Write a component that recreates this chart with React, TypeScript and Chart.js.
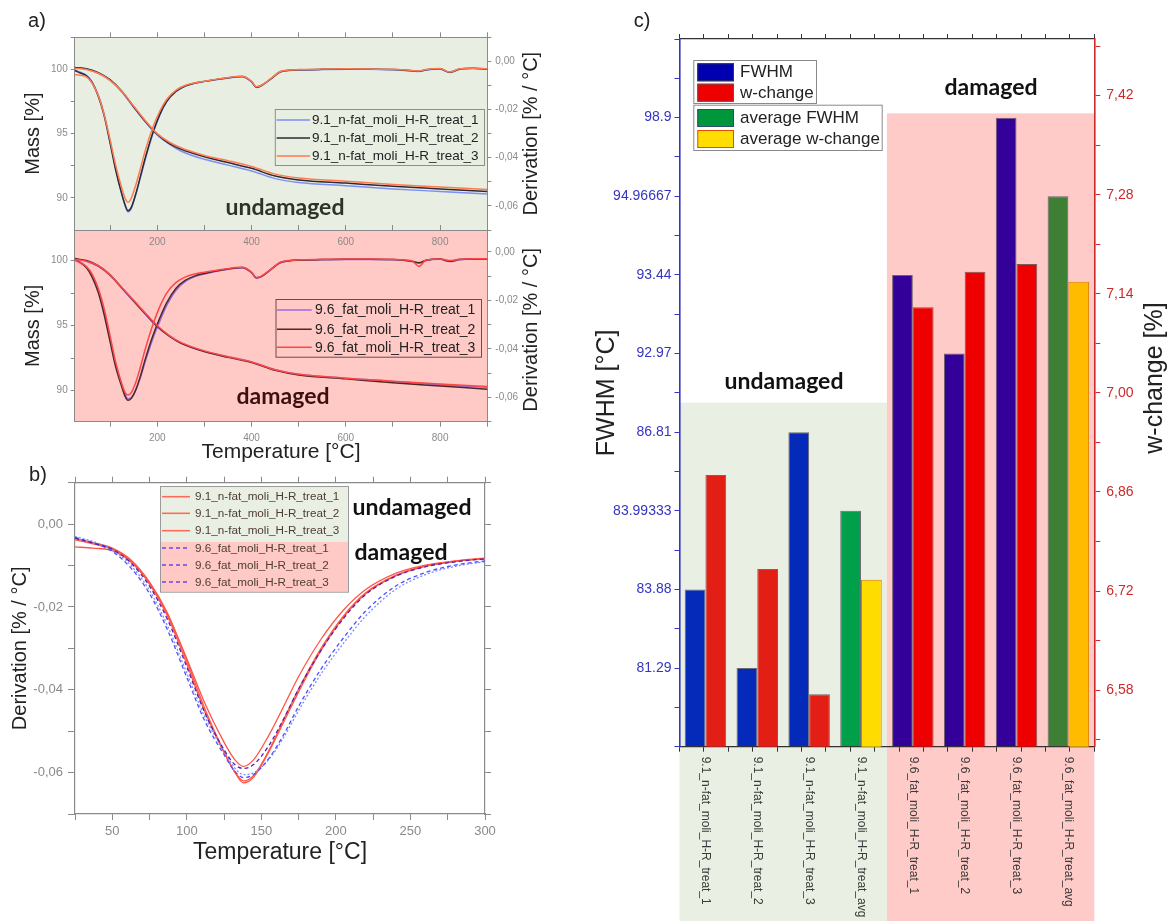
import React, { useEffect, useRef } from 'react';
import { Chart, registerables } from 'chart.js';

Chart.register(...registerables);

const SANS = "'Liberation Sans', Arial, Helvetica, sans-serif";
const BOLD = "Lato, 'Open Sans', sans-serif";

// ====================== DATA ======================
// panel a: mass curves (°C -> %)
const tempMass = [25, 50, 75, 100, 125, 150, 175, 200, 225, 250, 300, 350, 400, 450, 500, 600, 700, 800, 900];
const massUndamaged1 = [100.15, 100.03, 99.72, 99.15, 98.25, 97.05, 95.9, 94.9, 94.2, 93.65, 93.0, 92.55, 92.1, 91.5, 91.2, 90.95, 90.7, 90.5, 90.3];
const massUndamaged2 = [100.15, 100.05, 99.75, 99.2, 98.3, 97.1, 95.95, 94.95, 94.25, 93.8, 93.2, 92.75, 92.3, 91.7, 91.4, 91.15, 90.9, 90.7, 90.5];
const massUndamaged3 = [100.1, 100.0, 99.7, 99.15, 98.3, 97.15, 96.0, 95.0, 94.35, 93.9, 93.3, 92.9, 92.45, 91.85, 91.55, 91.3, 91.05, 90.85, 90.65];
const massDamaged1 = [100.15, 99.95, 99.55, 98.85, 97.85, 96.85, 95.85, 94.9, 94.2, 93.65, 93.0, 92.6, 92.2, 91.6, 91.25, 90.95, 90.7, 90.45, 90.25];
const massDamaged2 = [100.15, 100.0, 99.6, 98.9, 97.9, 96.9, 95.9, 94.95, 94.2, 93.65, 93.0, 92.55, 92.15, 91.55, 91.2, 90.9, 90.6, 90.35, 90.1];
const massDamaged3 = [100.1, 99.95, 99.6, 98.9, 97.9, 96.95, 95.95, 95.0, 94.25, 93.7, 93.05, 92.6, 92.2, 91.6, 91.25, 90.95, 90.72, 90.5, 90.3];

// panel a + b: derivation curves (°C -> % / °C)
const tempDeriv = [25, 37, 50, 62, 75, 87, 100, 112, 125, 132, 138, 145, 155, 165, 175, 190, 205, 220, 240, 260, 280, 300, 340, 380, 400, 410, 420, 440, 460, 480, 500, 550, 600, 650, 700, 740, 755, 770, 800, 820, 840, 870, 900];
const derivUndamaged1 = [-0.0035, -0.0045, -0.0058, -0.0085, -0.014, -0.0215, -0.033, -0.0445, -0.055, -0.0598,
  -0.0625, -0.061, -0.055, -0.0478, -0.0405, -0.0305, -0.0225, -0.0168, -0.0125, -0.0102,
  -0.009, -0.0083, -0.0072, -0.0064, -0.0085, -0.0108, -0.0102, -0.0075, -0.0045, -0.0038,
  -0.0036, -0.0034, -0.0033, -0.0033, -0.0035, -0.004, -0.0042, -0.0036, -0.0032, -0.0046,
  -0.0034, -0.003, -0.0033];
const derivUndamaged2 = [-0.0038, -0.0048, -0.006, -0.0088, -0.0145, -0.0222, -0.0338, -0.0452, -0.0552, -0.0597,
  -0.062, -0.0606, -0.0547, -0.0472, -0.0398, -0.03, -0.0222, -0.0166, -0.0124, -0.0101,
  -0.009, -0.0083, -0.0071, -0.0063, -0.0084, -0.0107, -0.0101, -0.0074, -0.0044, -0.0037,
  -0.0035, -0.0033, -0.0032, -0.0033, -0.0034, -0.0039, -0.0041, -0.0035, -0.0031, -0.0045,
  -0.0033, -0.0029, -0.0032];
const derivUndamaged3 = [-0.0055, -0.0058, -0.0064, -0.009, -0.0142, -0.0218, -0.0325, -0.0432, -0.0527, -0.0568,
  -0.0585, -0.0568, -0.051, -0.044, -0.0368, -0.0278, -0.0208, -0.0158, -0.0119, -0.0099,
  -0.0089, -0.0082, -0.007, -0.0062, -0.0083, -0.0105, -0.01, -0.0073, -0.0043, -0.0036,
  -0.0034, -0.0032, -0.0031, -0.0032, -0.0033, -0.0038, -0.004, -0.0034, -0.003, -0.0044,
  -0.0032, -0.0028, -0.0031];
const derivDamaged1 = [-0.003, -0.0042, -0.0062, -0.0098, -0.016, -0.0245, -0.036, -0.0465, -0.0548, -0.0588,
  -0.0605, -0.06, -0.0568, -0.0515, -0.045, -0.0362, -0.0288, -0.0222, -0.0158, -0.0122,
  -0.0102, -0.0091, -0.0075, -0.0066, -0.0086, -0.0108, -0.0103, -0.0075, -0.0046, -0.0038,
  -0.0035, -0.0033, -0.0032, -0.0032, -0.0033, -0.004, -0.0047, -0.0036, -0.0031, -0.004,
  -0.0033, -0.003, -0.003];
const derivDamaged2 = [-0.0032, -0.0045, -0.0066, -0.0104, -0.0168, -0.0255, -0.037, -0.0475, -0.0557, -0.0596,
  -0.0612, -0.0604, -0.0566, -0.0508, -0.044, -0.035, -0.0275, -0.021, -0.015, -0.0117,
  -0.0099, -0.0089, -0.0074, -0.0065, -0.0085, -0.0107, -0.0102, -0.0074, -0.0045, -0.0037,
  -0.0034, -0.0032, -0.0031, -0.0031, -0.0032, -0.0039, -0.0045, -0.0035, -0.003, -0.0039,
  -0.0032, -0.0029, -0.0029];
const derivDamaged3 = [-0.0034, -0.0046, -0.0061, -0.0092, -0.015, -0.023, -0.0345, -0.0455, -0.0545, -0.058,
  -0.059, -0.058, -0.0535, -0.047, -0.0398, -0.0305, -0.0228, -0.017, -0.0126, -0.0103,
  -0.0091, -0.0084, -0.0072, -0.0064, -0.0084, -0.0106, -0.0101, -0.0074, -0.0044, -0.0036,
  -0.0033, -0.0031, -0.003, -0.003, -0.0031, -0.0037, -0.006, -0.0034, -0.0029, -0.0036,
  -0.0031, -0.0028, -0.0028];

const legendUndamaged = ['9.1_n-fat_moli_H-R_treat_1', '9.1_n-fat_moli_H-R_treat_2', '9.1_n-fat_moli_H-R_treat_3'];
const legendDamaged = ['9.6_fat_moli_H-R_treat_1', '9.6_fat_moli_H-R_treat_2', '9.6_fat_moli_H-R_treat_3'];

const tempTicksA = [100, 200, 300, 400, 500, 600, 700, 800, 900];
const tempLabelsA = [200, 400, 600, 800];
const massTicks = [90, 92.5, 95, 97.5, 100, 102.5];
const massLabels = [90, 95, 100];
const derivTicks = [-0.07, -0.06, -0.05, -0.04, -0.03, -0.02, -0.01, 0, 0.01];
const derivLabels = [-0.06, -0.04, -0.02, 0];
const tempTicksB = [25, 50, 75, 100, 125, 150, 175, 200, 225, 250, 275, 300];
const tempLabelsB = [50, 100, 150, 200, 250, 300];

// panel c: bars
const barCategories = [
  '9.1_n-fat_moli_H-R_treat_1', '9.1_n-fat_moli_H-R_treat_2', '9.1_n-fat_moli_H-R_treat_3', '9.1_n-fat_moli_H-R_treat_avg',
  '9.6_fat_moli_H-R_treat_1', '9.6_fat_moli_H-R_treat_2', '9.6_fat_moli_H-R_treat_3', '9.6_fat_moli_H-R_treat_avg',
];
const fwhmValues = [83.88, 81.29, 86.81, 83.99333, 93.44, 92.97, 98.9, 94.96667];
const wChangeValues = [6.884, 6.751, 6.574, 6.736, 7.121, 7.171, 7.182, 7.157];
const fwhmAxisLabels = [81.29, 83.88, 83.99333, 86.81, 92.97, 93.44, 94.96667, 98.9];
const wChangeAxisLabels = [6.58, 6.72, 6.86, 7.0, 7.14, 7.28, 7.42];
const legendC = ['FWHM', 'w-change', 'average FWHM', 'average w-change'];

// ====================== HELPERS ======================
const zeroPad = (s: any) => { s.paddingLeft = 0; s.paddingRight = 0; s.paddingTop = 0; s.paddingBottom = 0; };
const fitW = (w: number) => (s: any) => { s.width = w; zeroPad(s); };
const fitH = (h: number) => (s: any) => { s.height = h; zeroPad(s); };
const setTicks = (vals: number[]) => (s: any) => {
  s.ticks = vals.filter((v) => v >= s.min - 1e-9 && v <= s.max + 1e-9).map((v) => ({ value: v }));
};
const near = (list: number[], v: number) => list.some((l) => Math.abs(l - v) < 1e-7);
const comma = (v: number) => (Math.abs(v) < 1e-9 ? 0 : v).toFixed(2).replace('.', ',');
const pts = (xs: number[], ys: number[]) => xs.map((x, i) => ({ x, y: ys[i] }));

function txt(ctx: CanvasRenderingContext2D, s: string, x: number, y: number, font: string, color: string,
  align: CanvasTextAlign = 'center', rot = 0) {
  ctx.save();
  ctx.translate(x, y);
  if (rot) ctx.rotate(rot);
  ctx.font = font;
  ctx.fillStyle = color;
  ctx.textAlign = align;
  ctx.textBaseline = 'middle';
  ctx.fillText(s, 0, 0);
  ctx.restore();
}

function lineLegend(ctx: CanvasRenderingContext2D, box: number[], rows: number[], labels: string[], colors: string[],
  dashes: number[][], lineX: number[], textX: number, font: string, textColor: string, border: string, fills?: any[]) {
  ctx.save();
  if (fills) {
    fills.forEach((f: any) => { ctx.fillStyle = f.color; ctx.fillRect(box[0], f.y0, box[2] - box[0], f.y1 - f.y0); });
  }
  ctx.strokeStyle = border;
  ctx.lineWidth = 1;
  ctx.strokeRect(box[0] + 0.5, box[1] + 0.5, box[2] - box[0], box[3] - box[1]);
  rows.forEach((y, i) => {
    ctx.beginPath();
    ctx.setLineDash(dashes[i] || []);
    ctx.strokeStyle = colors[i];
    ctx.lineWidth = 1.6;
    ctx.moveTo(lineX[0], y);
    ctx.lineTo(lineX[1], y);
    ctx.stroke();
    ctx.setLineDash([]);
    txt(ctx, labels[i], textX, y + 0.5, font, textColor, 'left');
  });
  ctx.restore();
}

const overlay = (id: string, after: (chart: any, ctx: CanvasRenderingContext2D) => void,
  before?: (chart: any, ctx: CanvasRenderingContext2D) => void) => ({
  id,
  beforeDraw: (chart: any) => { if (before) { chart.ctx.save(); before(chart, chart.ctx); chart.ctx.restore(); } },
  afterDraw: (chart: any) => { chart.ctx.save(); after(chart, chart.ctx); chart.ctx.restore(); },
});

const GREY = '#8a8a8a';
const fillArea = (color: string) => (chart: any, ctx: CanvasRenderingContext2D) => {
  const ca = chart.chartArea;
  ctx.fillStyle = color;
  ctx.fillRect(ca.left, ca.top, ca.right - ca.left, ca.bottom - ca.top);
};

// ====================== PANEL a ======================
function tgaConfig(p: any) {
  const datasets: any[] = [];
  for (let i = 2; i >= 0; i--) {
    datasets.push({ data: pts(tempMass, p.masses[i]), yAxisID: 'yM', xAxisID: 'x', borderColor: p.colors[i], borderWidth: 1.5 });
    datasets.push({ data: pts(tempDeriv, p.derivs[i]), yAxisID: 'yD', xAxisID: 'x', borderColor: p.colors[i], borderWidth: 1.5 });
  }
  const tickFont = { size: 10, family: SANS };
  return {
    type: 'line',
    data: { datasets },
    plugins: [overlay('tga' + p.id, p.extras, fillArea(p.bg))],
    options: {
      animation: false, responsive: false, maintainAspectRatio: false,
      layout: { padding: { left: 21, right: 0, top: 0, bottom: 0 }, autoPadding: false },
      plugins: { legend: { display: false }, tooltip: { enabled: false } },
      elements: { point: { radius: 0 }, line: { cubicInterpolationMode: 'monotone', fill: false } },
      scales: {
        x: {
          type: 'linear', position: 'bottom', min: 25, max: 900,
          afterFit: fitH(p.bottomH), afterBuildTicks: setTicks(tempTicksA),
          grid: { drawOnChartArea: false, drawTicks: p.labelsBottom, tickLength: 5, color: GREY },
          border: { color: GREY, width: 1 },
          ticks: { display: p.labelsBottom, padding: 6, color: GREY, font: tickFont, maxRotation: 0, autoSkip: false,
            callback: (v: number) => (near(tempLabelsA, v) ? String(v) : '') },
          title: { display: p.labelsBottom, text: 'Temperature [°C]', color: '#222', font: { size: 21, family: SANS }, padding: 0 },
        },
        xTop: {
          type: 'linear', position: 'top', min: 25, max: 900,
          afterFit: fitH(p.topH), afterBuildTicks: setTicks(tempTicksA),
          grid: { drawOnChartArea: false, tickLength: 5, color: GREY },
          border: { color: GREY, width: 1 },
          ticks: { display: false },
        },
        yM: {
          type: 'linear', position: 'left', min: p.massMin, max: p.massMax,
          afterFit: fitW(74.7 - 21), afterBuildTicks: setTicks(massTicks),
          grid: { drawOnChartArea: false, tickLength: 4, color: GREY },
          border: { color: GREY, width: 1 },
          ticks: { padding: 3, color: GREY, font: tickFont, callback: (v: number) => (near(massLabels, v) ? String(v) : '') },
          title: { display: true, text: 'Mass [%]', color: '#222', font: { size: 20, family: SANS }, padding: 0 },
        },
        yD: {
          type: 'linear', position: 'right', min: -0.07, max: p.derivMax,
          afterFit: fitW(545 - 487.3), afterBuildTicks: setTicks(derivTicks),
          grid: { drawOnChartArea: false, tickLength: 4, color: GREY },
          border: { color: GREY, width: 1 },
          ticks: { padding: 4, color: GREY, font: tickFont, callback: (v: number) => (near(derivLabels, v) ? comma(v) : '') },
        },
      },
    },
  };
}

const colorsUndamaged = ['#7b8ff5', '#2e2a33', '#ff7a4e'];
const colorsDamaged = ['#9d6ae0', '#4c2828', '#ff4646'];

function configA1() {
  return tgaConfig({
    id: 'A1',
    masses: [massUndamaged1, massUndamaged2, massUndamaged3],
    derivs: [derivUndamaged1, derivUndamaged2, derivUndamaged3],
    colors: colorsUndamaged, bg: '#e8eee1', massMin: 87.5, massMax: 102.5, derivMax: 0.01,
    topH: 37.3, bottomH: 2, labelsBottom: false,
    extras: (chart: any, ctx: CanvasRenderingContext2D) => {
      const ca = chart.chartArea;
      txt(ctx, 'a)', 37, 21, `20px ${SANS}`, '#222');
      lineLegend(ctx, [274.8, 109, 484, 165], [120, 138, 156], legendUndamaged, colorsUndamaged, [[], [], []],
        [276.6, 310], 312, `13.5px ${SANS}`, '#222', '#8f8f85');
      txt(ctx, 'undamaged', 285, 208, `bold 23px ${BOLD}`, '#2c3427');
      txt(ctx, 'Derivation [% / °C]', 531.7, (ca.top + ca.bottom) / 2, `20px ${SANS}`, '#222', 'center', -Math.PI / 2);
    },
  });
}

function configA2() {
  return tgaConfig({
    id: 'A2',
    masses: [massDamaged1, massDamaged2, massDamaged3],
    derivs: [derivDamaged1, derivDamaged2, derivDamaged3],
    colors: colorsDamaged, bg: '#ffc9c5', massMin: 87.6, massMax: 102.35, derivMax: 0.009,
    topH: 6, bottomH: 43.3, labelsBottom: true,
    extras: (chart: any, ctx: CanvasRenderingContext2D) => {
      const ca = chart.chartArea;
      const xs = chart.scales.x;
      tempLabelsA.forEach((v) => txt(ctx, String(v), xs.getPixelForValue(v), 18, `10px ${SANS}`, GREY));
      lineLegend(ctx, [275.5, 75, 481, 132.7], [86, 105.3, 123.3], legendDamaged, colorsDamaged, [[], [], []],
        [277, 311.7], 315, `14px ${SANS}`, '#222', '#6e4a48');
      txt(ctx, 'damaged', 283, 173, `bold 23px ${BOLD}`, '#3a1010');
      txt(ctx, 'Derivation [% / °C]', 531.7, (ca.top + ca.bottom) / 2 + 4, `20px ${SANS}`, '#222', 'center', -Math.PI / 2);
    },
  });
}

// ====================== PANEL b ======================
const colorsB = ['#ff5548', '#ff5548', '#ff5548', '#7c8cff', '#4f4fff', '#5522aa'];
const dashesB = [[], [], [], [2, 2], [4, 3], [4, 3]];

function configB() {
  const series = [derivUndamaged1, derivUndamaged2, derivUndamaged3, derivDamaged1, derivDamaged2, derivDamaged3];
  const datasets = series.map((s, i) => ({
    data: pts(tempDeriv, s), xAxisID: 'x', yAxisID: 'y', borderColor: colorsB[i], borderDash: dashesB[i], borderWidth: 1.3,
  })).reverse();
  const tickFont = { size: 13, family: SANS };
  return {
    type: 'line',
    data: { datasets },
    plugins: [overlay('panelB', (chart: any, ctx: CanvasRenderingContext2D) => {
      txt(ctx, 'b)', 38, 15, `20px ${SANS}`, '#222');
      lineLegend(ctx, [160, 26, 348, 131.7], [36.7, 53.3, 70.7, 88, 105, 122],
        [...legendUndamaged, ...legendDamaged], ['#ff6a5a', '#ff6a5a', '#ff6a5a', '#6a4ae0', '#6a4ae0', '#6a4ae0'],
        [[], [], [], [4, 3], [4, 3], [4, 3]], [162, 190], 195, `11.7px ${SANS}`, '#4d3d33', '#9a9a9a',
        [{ color: '#e9efe3', y0: 26, y1: 81.7 }, { color: '#ffc9c5', y0: 81.7, y1: 131.7 }]);
      txt(ctx, 'undamaged', 412, 48, `bold 23px ${BOLD}`, '#111');
      txt(ctx, 'damaged', 401, 93, `bold 23px ${BOLD}`, '#111');
    })],
    options: {
      animation: false, responsive: false, maintainAspectRatio: false,
      layout: { padding: { left: 8, right: 0, top: 0, bottom: 54.2 }, autoPadding: false },
      plugins: { legend: { display: false }, tooltip: { enabled: false } },
      elements: { point: { radius: 0 }, line: { cubicInterpolationMode: 'monotone', fill: false } },
      scales: {
        x: {
          type: 'linear', position: 'bottom', min: 25, max: 300,
          afterFit: fitH(52.8), afterBuildTicks: setTicks(tempTicksB),
          grid: { drawOnChartArea: false, tickLength: 6, color: GREY },
          border: { color: GREY, width: 1.2 },
          ticks: { padding: 4, color: GREY, font: tickFont, maxRotation: 0, autoSkip: false,
            callback: (v: number) => (near(tempLabelsB, v) ? String(v) : '') },
          title: { display: true, text: 'Temperature [°C]', color: '#222', font: { size: 23, family: SANS }, padding: 0 },
        },
        xTop: {
          type: 'linear', position: 'top', min: 25, max: 300,
          afterFit: fitH(22.7), afterBuildTicks: setTicks(tempTicksB),
          grid: { drawOnChartArea: false, tickLength: 6, color: GREY },
          border: { color: GREY, width: 1.2 },
          ticks: { display: false },
        },
        y: {
          type: 'linear', position: 'left', min: -0.07, max: 0.01,
          afterFit: fitW(67), afterBuildTicks: setTicks(derivTicks),
          grid: { drawOnChartArea: false, tickLength: 7, color: GREY },
          border: { color: GREY, width: 1.2 },
          ticks: { padding: 5, color: GREY, font: tickFont, callback: (v: number) => (near(derivLabels, v) ? comma(v) : '') },
          title: { display: true, text: 'Derivation [% / °C]', color: '#222', font: { size: 20, family: SANS }, padding: 0 },
        },
        yR: {
          type: 'linear', position: 'right', min: -0.07, max: 0.01,
          afterFit: fitW(15), afterBuildTicks: setTicks(derivTicks),
          grid: { drawOnChartArea: false, tickLength: 6, color: GREY },
          border: { color: GREY, width: 1.2 },
          ticks: { display: false },
        },
      },
    },
  };
}

// ====================== PANEL c ======================
const fwhmPos = fwhmValues.map((v) => fwhmAxisLabels.findIndex((a) => Math.abs(a - v) < 1e-6) + 1);
const isAvg = barCategories.map((c) => c.endsWith('_avg'));
const isDamaged = barCategories.map((c) => c.startsWith('9.6'));
const fwhmColors = barCategories.map((_, i) => (isAvg[i] ? (isDamaged[i] ? '#3f7f35' : '#00a04a') : (isDamaged[i] ? '#330099' : '#0529b8')));
const wColors = barCategories.map((_, i) => (isAvg[i] ? (isDamaged[i] ? '#ffbb00' : '#ffdc00') : (isDamaged[i] ? '#ee0000' : '#e31e14')));
const wBorders = barCategories.map((_, i) => (isAvg[i] ? '#e07a00' : 'rgba(70,40,40,0.7)'));
const fwhmTickPos = Array.from({ length: 19 }, (_, i) => i * 0.5);
const wTicks: number[] = [];
wChangeAxisLabels.forEach((m) => { wTicks.push(m - 0.07, m); });
wTicks.push(wChangeAxisLabels[wChangeAxisLabels.length - 1] + 0.07);
const catTickPos = Array.from({ length: 17 }, (_, i) => -0.5 + i * 0.5);

const BLUE_AX = '#3535c0';
const RED_AX = '#cc2a2a';

function configC() {
  return {
    type: 'bar',
    data: {
      labels: barCategories,
      datasets: [
        { label: legendC[0], data: fwhmPos, xAxisID: 'x', yAxisID: 'yL', backgroundColor: fwhmColors,
          borderColor: 'rgba(50,50,70,0.7)', borderWidth: 1, categoryPercentage: 0.8, barPercentage: 1 },
        { label: legendC[1], data: wChangeValues, xAxisID: 'x', yAxisID: 'yR', backgroundColor: wColors,
          borderColor: wBorders, borderWidth: 1, categoryPercentage: 0.8, barPercentage: 1 },
      ],
    },
    plugins: [overlay('panelC', (chart: any, ctx: CanvasRenderingContext2D) => {
      const ca = chart.chartArea;
      const xs = chart.scales.x;
      txt(ctx, 'c)', 52, 21, `20px ${SANS}`, '#222');
      // legend
      ctx.fillStyle = 'rgba(255,255,255,0.95)';
      ctx.fillRect(103.3, 60, 122.7, 43);
      ctx.fillRect(103.3, 104.7, 188.4, 45.3);
      ctx.strokeStyle = '#8a8a8a';
      ctx.lineWidth = 1;
      ctx.strokeRect(103.8, 60.5, 122.7, 43);
      ctx.strokeRect(103.8, 105.2, 188.4, 45.3);
      const patches = [['#0000b0', '#333355'], ['#ee0000', '#884444'], ['#00963c', '#2f4f6f'], ['#ffdd00', '#e05000']];
      const rows = [72.3, 92.7, 118, 139];
      rows.forEach((y, i) => {
        ctx.fillStyle = patches[i][0];
        ctx.fillRect(107.3, y - 9, 36.7, 18);
        ctx.strokeStyle = patches[i][1];
        ctx.strokeRect(107.8, y - 8.5, 35.7, 17);
        txt(ctx, legendC[i], 150, y + 0.5, `17px ${SANS}`, '#222', 'left');
      });
      txt(ctx, 'undamaged', 194, 382, `bold 23px ${BOLD}`, '#111');
      txt(ctx, 'damaged', 401, 88, `bold 23px ${BOLD}`, '#111');
      // rotated category labels
      barCategories.forEach((c, i) => {
        txt(ctx, c, xs.getPixelForValue(i), ca.bottom + 10, `12px ${SANS}`, '#3a3a3a', 'left', Math.PI / 2);
      });
      txt(ctx, 'w-change [%]', 565, 378, `25px ${SANS}`, '#222', 'center', -Math.PI / 2);
    }, (chart: any, ctx: CanvasRenderingContext2D) => {
      const ca = chart.chartArea;
      const xs = chart.scales.x;
      const yR = chart.scales.yR;
      const mid = (xs.getPixelForValue(3) + xs.getPixelForValue(4)) / 2;
      const topU = yR.getPixelForValue(6.986);
      const topD = yR.getPixelForValue(7.395);
      ctx.fillStyle = '#e9efe3';
      ctx.fillRect(ca.left, topU, mid - ca.left, chart.height - topU);
      ctx.fillStyle = '#ffcbc8';
      ctx.fillRect(mid, topD, ca.right - mid, chart.height - topD);
    })],
    options: {
      animation: false, responsive: false, maintainAspectRatio: false,
      layout: { padding: { left: 2, right: 0, top: 0, bottom: 0 }, autoPadding: false },
      plugins: { legend: { display: false }, tooltip: { enabled: false } },
      scales: {
        x: { type: 'category', display: false, offset: true, grid: { offset: true } },
        xB: {
          type: 'linear', position: 'bottom', min: -0.5, max: 7.5,
          afterFit: fitH(921 - 746.7), afterBuildTicks: setTicks(catTickPos),
          grid: { drawOnChartArea: false, tickLength: 5, color: '#333' },
          border: { color: '#333', width: 1.2 },
          ticks: { display: false },
        },
        xT: {
          type: 'linear', position: 'top', min: -0.5, max: 7.5,
          afterFit: fitH(39), afterBuildTicks: setTicks(catTickPos),
          grid: { drawOnChartArea: false, tickLength: 5, color: '#333' },
          border: { color: '#333', width: 1.2 },
          ticks: { display: false },
        },
        yL: {
          type: 'linear', position: 'left', min: 0, max: 9,
          afterFit: fitW(87.5), afterBuildTicks: setTicks(fwhmTickPos),
          grid: { drawOnChartArea: false, tickLength: 5, color: BLUE_AX },
          border: { color: BLUE_AX, width: 1.6 },
          ticks: { padding: 3, color: BLUE_AX, font: { size: 14, family: SANS },
            callback: (v: number) => (Number.isInteger(v) && v >= 1 && v <= 8 ? String(fwhmAxisLabels[v - 1]) : '') },
          title: { display: true, text: 'FWHM [°C]', color: '#222', font: { size: 25, family: SANS }, padding: 0 },
        },
        yR: {
          type: 'linear', position: 'right', min: 6.5, max: 7.5,
          afterFit: fitW(584 - 504.3), afterBuildTicks: setTicks(wTicks),
          grid: { drawOnChartArea: false, tickLength: 6, color: RED_AX },
          border: { color: RED_AX, width: 1.6 },
          ticks: { padding: 6, color: RED_AX, font: { size: 14, family: SANS },
            callback: (v: number) => (near(wChangeAxisLabels, v) ? comma(v) : '') },
        },
      },
    },
  };
}

// ====================== COMPONENT ======================
const box = (left: number, top: number, width: number, height: number): React.CSSProperties => ({
  position: 'absolute', left, top, width, height,
});

export default function App() {
  const a1 = useRef<HTMLCanvasElement>(null);
  const a2 = useRef<HTMLCanvasElement>(null);
  const b = useRef<HTMLCanvasElement>(null);
  const c = useRef<HTMLCanvasElement>(null);

  useEffect(() => {
    const charts = [
      new Chart(a1.current as HTMLCanvasElement, configA1() as any),
      new Chart(a2.current as HTMLCanvasElement, configA2() as any),
      new Chart(b.current as HTMLCanvasElement, configB() as any),
      new Chart(c.current as HTMLCanvasElement, configC() as any),
    ];
    return () => charts.forEach((ch) => ch.destroy());
  }, []);

  return (
    <div style={{ position: 'fixed', left: 0, top: 0, width: 1174, height: 921, background: '#fff', overflow: 'hidden' }}>
      <canvas ref={a1} width={545} height={232} style={box(0, 0, 545, 232)} />
      <canvas ref={a2} width={545} height={241} style={box(0, 224, 545, 241)} />
      <canvas ref={b} width={500} height={461} style={box(0, 460, 500, 461)} />
      <canvas ref={c} width={584} height={921} style={box(590, 0, 584, 921)} />
    </div>
  );
}
